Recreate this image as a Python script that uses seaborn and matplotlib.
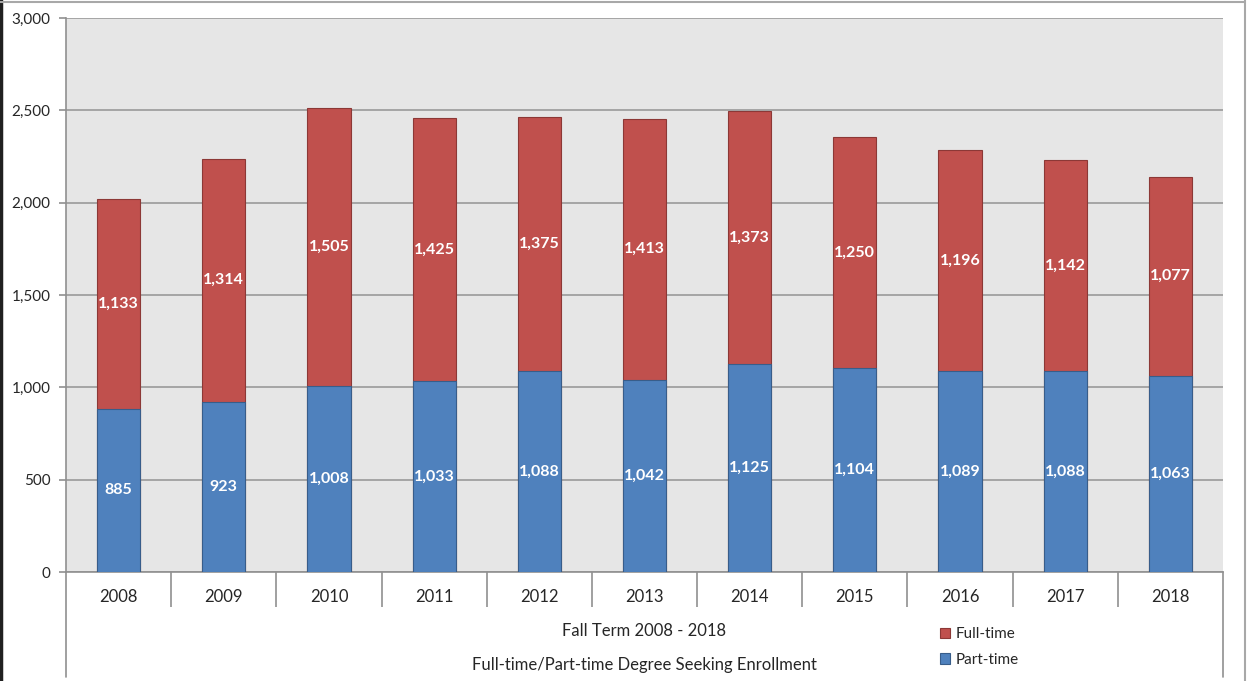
import numpy as np
import pandas as pd
import seaborn as sns
import matplotlib.pyplot as plt
from matplotlib.lines import Line2D
from matplotlib.ticker import FuncFormatter, FixedLocator

years = ["2008", "2009", "2010", "2011", "2012", "2013", "2014", "2015", "2016", "2017", "2018"]
part_time = [885, 923, 1008, 1033, 1088, 1042, 1125, 1104, 1089, 1088, 1063]
full_time = [1133, 1314, 1505, 1425, 1375, 1413, 1373, 1250, 1196, 1142, 1077]

df = pd.DataFrame({"year": years, "part": part_time, "full": full_time})
df["total"] = df["part"] + df["full"]

sns.set_style("white")
plt.rcParams["font.family"] = ["Lato", "DejaVu Sans"]

fig = plt.figure(figsize=(12.51, 6.81), dpi=100)
ax = fig.add_axes([66 / 1251, 1 - 572 / 681, (1223 - 66) / 1251, (572 - 18) / 681])
ax.set_facecolor("#e6e6e6")

# stacked bars: total (red) underneath, part-time (blue) over it
sns.barplot(data=df, x="year", y="total", color="#c0504d", width=0.41,
            edgecolor="#8c3836", linewidth=0.8, saturation=1, ax=ax, zorder=3)
sns.barplot(data=df, x="year", y="part", color="#4f81bd", width=0.41,
            edgecolor="#385d8a", linewidth=0.8, saturation=1, ax=ax, zorder=3)

for i, row in df.iterrows():
    ax.text(i, row["part"] / 2, f"{row['part']:,}", ha="center", va="center",
            color="white", fontsize=11.5, fontweight="bold", zorder=5)
    ax.text(i, row["part"] + row["full"] / 2, f"{row['full']:,}", ha="center", va="center",
            color="white", fontsize=11.5, fontweight="bold", zorder=5)

ax.set_ylim(0, 3000)
ax.set_xlim(-0.5, len(years) - 0.5)
ax.set_yticks(np.arange(0, 3001, 500))
ax.yaxis.set_major_formatter(FuncFormatter(lambda v, p: f"{int(v):,}"))
ax.grid(axis="y", color="#a0a0a0", linewidth=1.3, zorder=0)
ax.set_axisbelow(True)

for s in ["top", "right"]:
    ax.spines[s].set_visible(False)
ax.spines["left"].set_color("#909090")
ax.spines["bottom"].set_color("#909090")
ax.spines["left"].set_linewidth(1.2)
ax.spines["bottom"].set_linewidth(1.2)

ax.tick_params(axis="y", left=True, length=5, color="#909090", width=1.2, labelsize=11, pad=6)
ax.tick_params(axis="x", which="major", bottom=True, length=0, labelsize=12, pad=12)
ax.xaxis.set_minor_locator(FixedLocator(np.arange(0.5, len(years) - 0.5, 1)))
ax.tick_params(axis="x", which="minor", bottom=True, length=25, color="#909090", width=1.2)
ax.set_xlabel("")
ax.set_ylabel("")

# outer table lines under the category axis
y0 = 1 - 572 / 681
y1 = 1 - 677 / 681
fig.add_artist(Line2D([66 / 1251, 66 / 1251], [y0, y1], color="#909090", lw=1.2))
fig.add_artist(Line2D([1223 / 1251, 1223 / 1251], [y0, y1], color="#909090", lw=1.2))

fig.text(644 / 1251, 1 - 631 / 681, "Fall Term 2008 - 2018", ha="center", va="center", fontsize=12)
fig.text(644 / 1251, 1 - 665 / 681, "Full-time/Part-time Degree Seeking Enrollment",
         ha="center", va="center", fontsize=12)

handles = [plt.Rectangle((0, 0), 1, 1, fc="#c0504d", ec="#8c3836", lw=0.8),
           plt.Rectangle((0, 0), 1, 1, fc="#4f81bd", ec="#385d8a", lw=0.8)]
fig.legend(handles, ["Full-time", "Part-time"], loc="center left",
           bbox_to_anchor=(926 / 1251, 1 - 647 / 681), frameon=False, fontsize=11,
           handlelength=0.7, handleheight=0.7, handletextpad=0.35, labelspacing=0.75)

# chart frame
fig.add_artist(Line2D([0.001, 0.001], [0, 1], color="#202020", lw=2.5))
fig.add_artist(Line2D([0, 1245 / 1251], [1 - 1.5 / 681] * 2, color="#a8a8a8", lw=1.5))
fig.add_artist(Line2D([1245 / 1251] * 2, [0, 1], color="#a8a8a8", lw=1.5))

fig.savefig("out.png", dpi=100)
